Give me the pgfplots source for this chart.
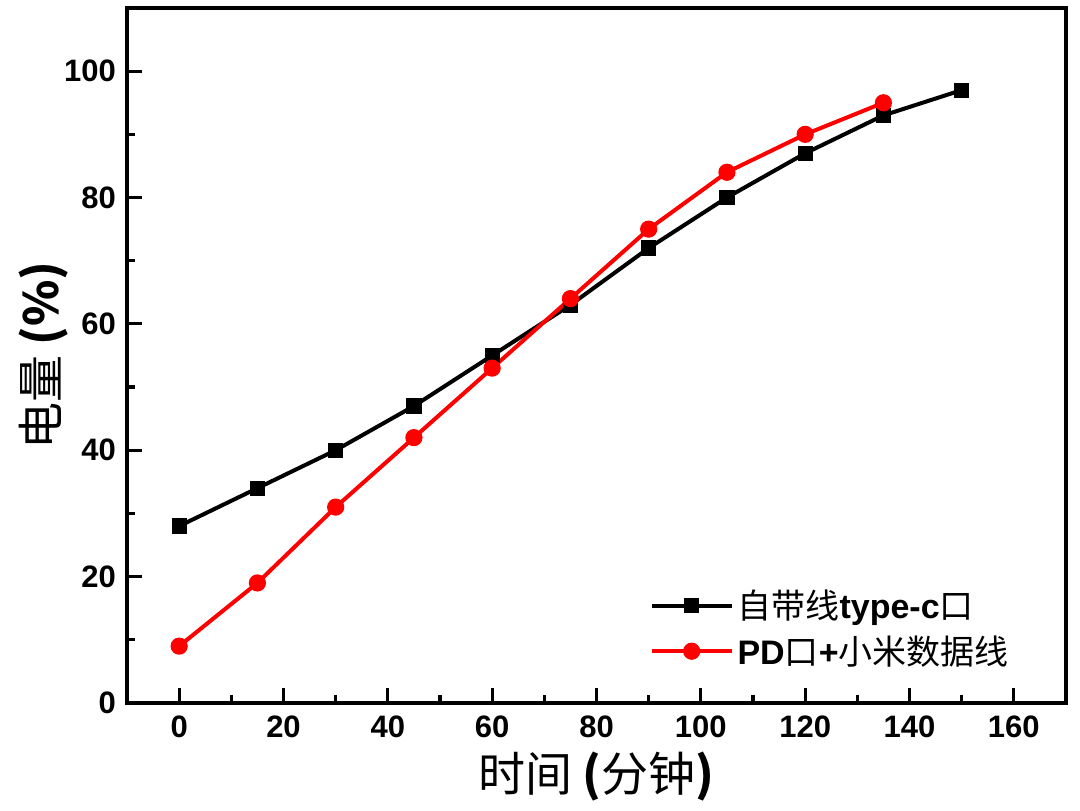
\documentclass[border=0pt]{standalone}
\usepackage{pgfplots}
\pgfplotsset{compat=1.18}
\usepackage{fontspec}
\setmainfont{Liberation Sans}
\newfontfamily\cjk{Noto Sans CJK SC}
\begin{document}
\begin{tikzpicture}
\begin{axis}[
    scale only axis, width=469.5pt, height=347.5pt,
    xmin=-10, xmax=170, ymin=0, ymax=110,
    xtick={0,20,...,160}, ytick={0,20,...,100},
    minor xtick={10,30,...,150}, minor ytick={10,30,...,90},
    axis line style={line width=1.6pt},
    tick style={line width=1.6pt, black},
    major tick length=7.5pt, minor tick length=4pt,
    tick align=inside,
    xtick pos=bottom, ytick pos=left,
    /pgf/number format/assume math mode=true,
    tick label style={font=\fontsize{15.5}{16}\selectfont\bfseries},
    xticklabel style={yshift=-3pt},
    yticklabel style={xshift=-2pt},
    xlabel={\cjk 时间 \textbf{(}分钟\textbf{)}},
    ylabel={\cjk 电量 \textbf{(\%)}},
    label style={font=\fontsize{23.5}{24}\selectfont},
    xlabel style={yshift=0pt},
    ylabel style={yshift=-9pt},
    legend style={at={(0.55,0.175)}, anchor=north west, draw=none, fill=none,
        font=\fontsize{17}{19}\selectfont, row sep=3pt},
    legend cell align=left,
    legend image code/.code={
        \draw[#1] (0cm,0cm) -- (1.4cm,0cm);
        \draw[#1, only marks] plot coordinates {(0.7cm,0cm)};
    },
]
\addplot[black, line width=2pt, mark=square*, mark size=3.4pt, mark options={line width=0.8pt}] coordinates {
(0,28) (15,34) (30,40) (45,47) (60,55) (75,63) (90,72) (105,80) (120,87) (135,93) (150,97)};
\addlegendentry{{\cjk 自带线}\textbf{type-c}{\cjk 口}}
\addplot[red, line width=2pt, mark=*, mark size=3.9pt, mark options={line width=0.8pt}] coordinates {
(0,9) (15,19) (30,31) (45,42) (60,53) (75,64) (90,75) (105,84) (120,90) (135,95)};
\addlegendentry{\textbf{PD}{\cjk 口}\textbf{+}{\cjk 小米数据线}}
\end{axis}
\path (current axis.south west) ++(-63.5pt,-54pt) coordinate (bl);
\path (current axis.north east) ++(7pt,4pt) coordinate (tr);
\useasboundingbox (bl) rectangle (tr);
\end{tikzpicture}
\end{document}
